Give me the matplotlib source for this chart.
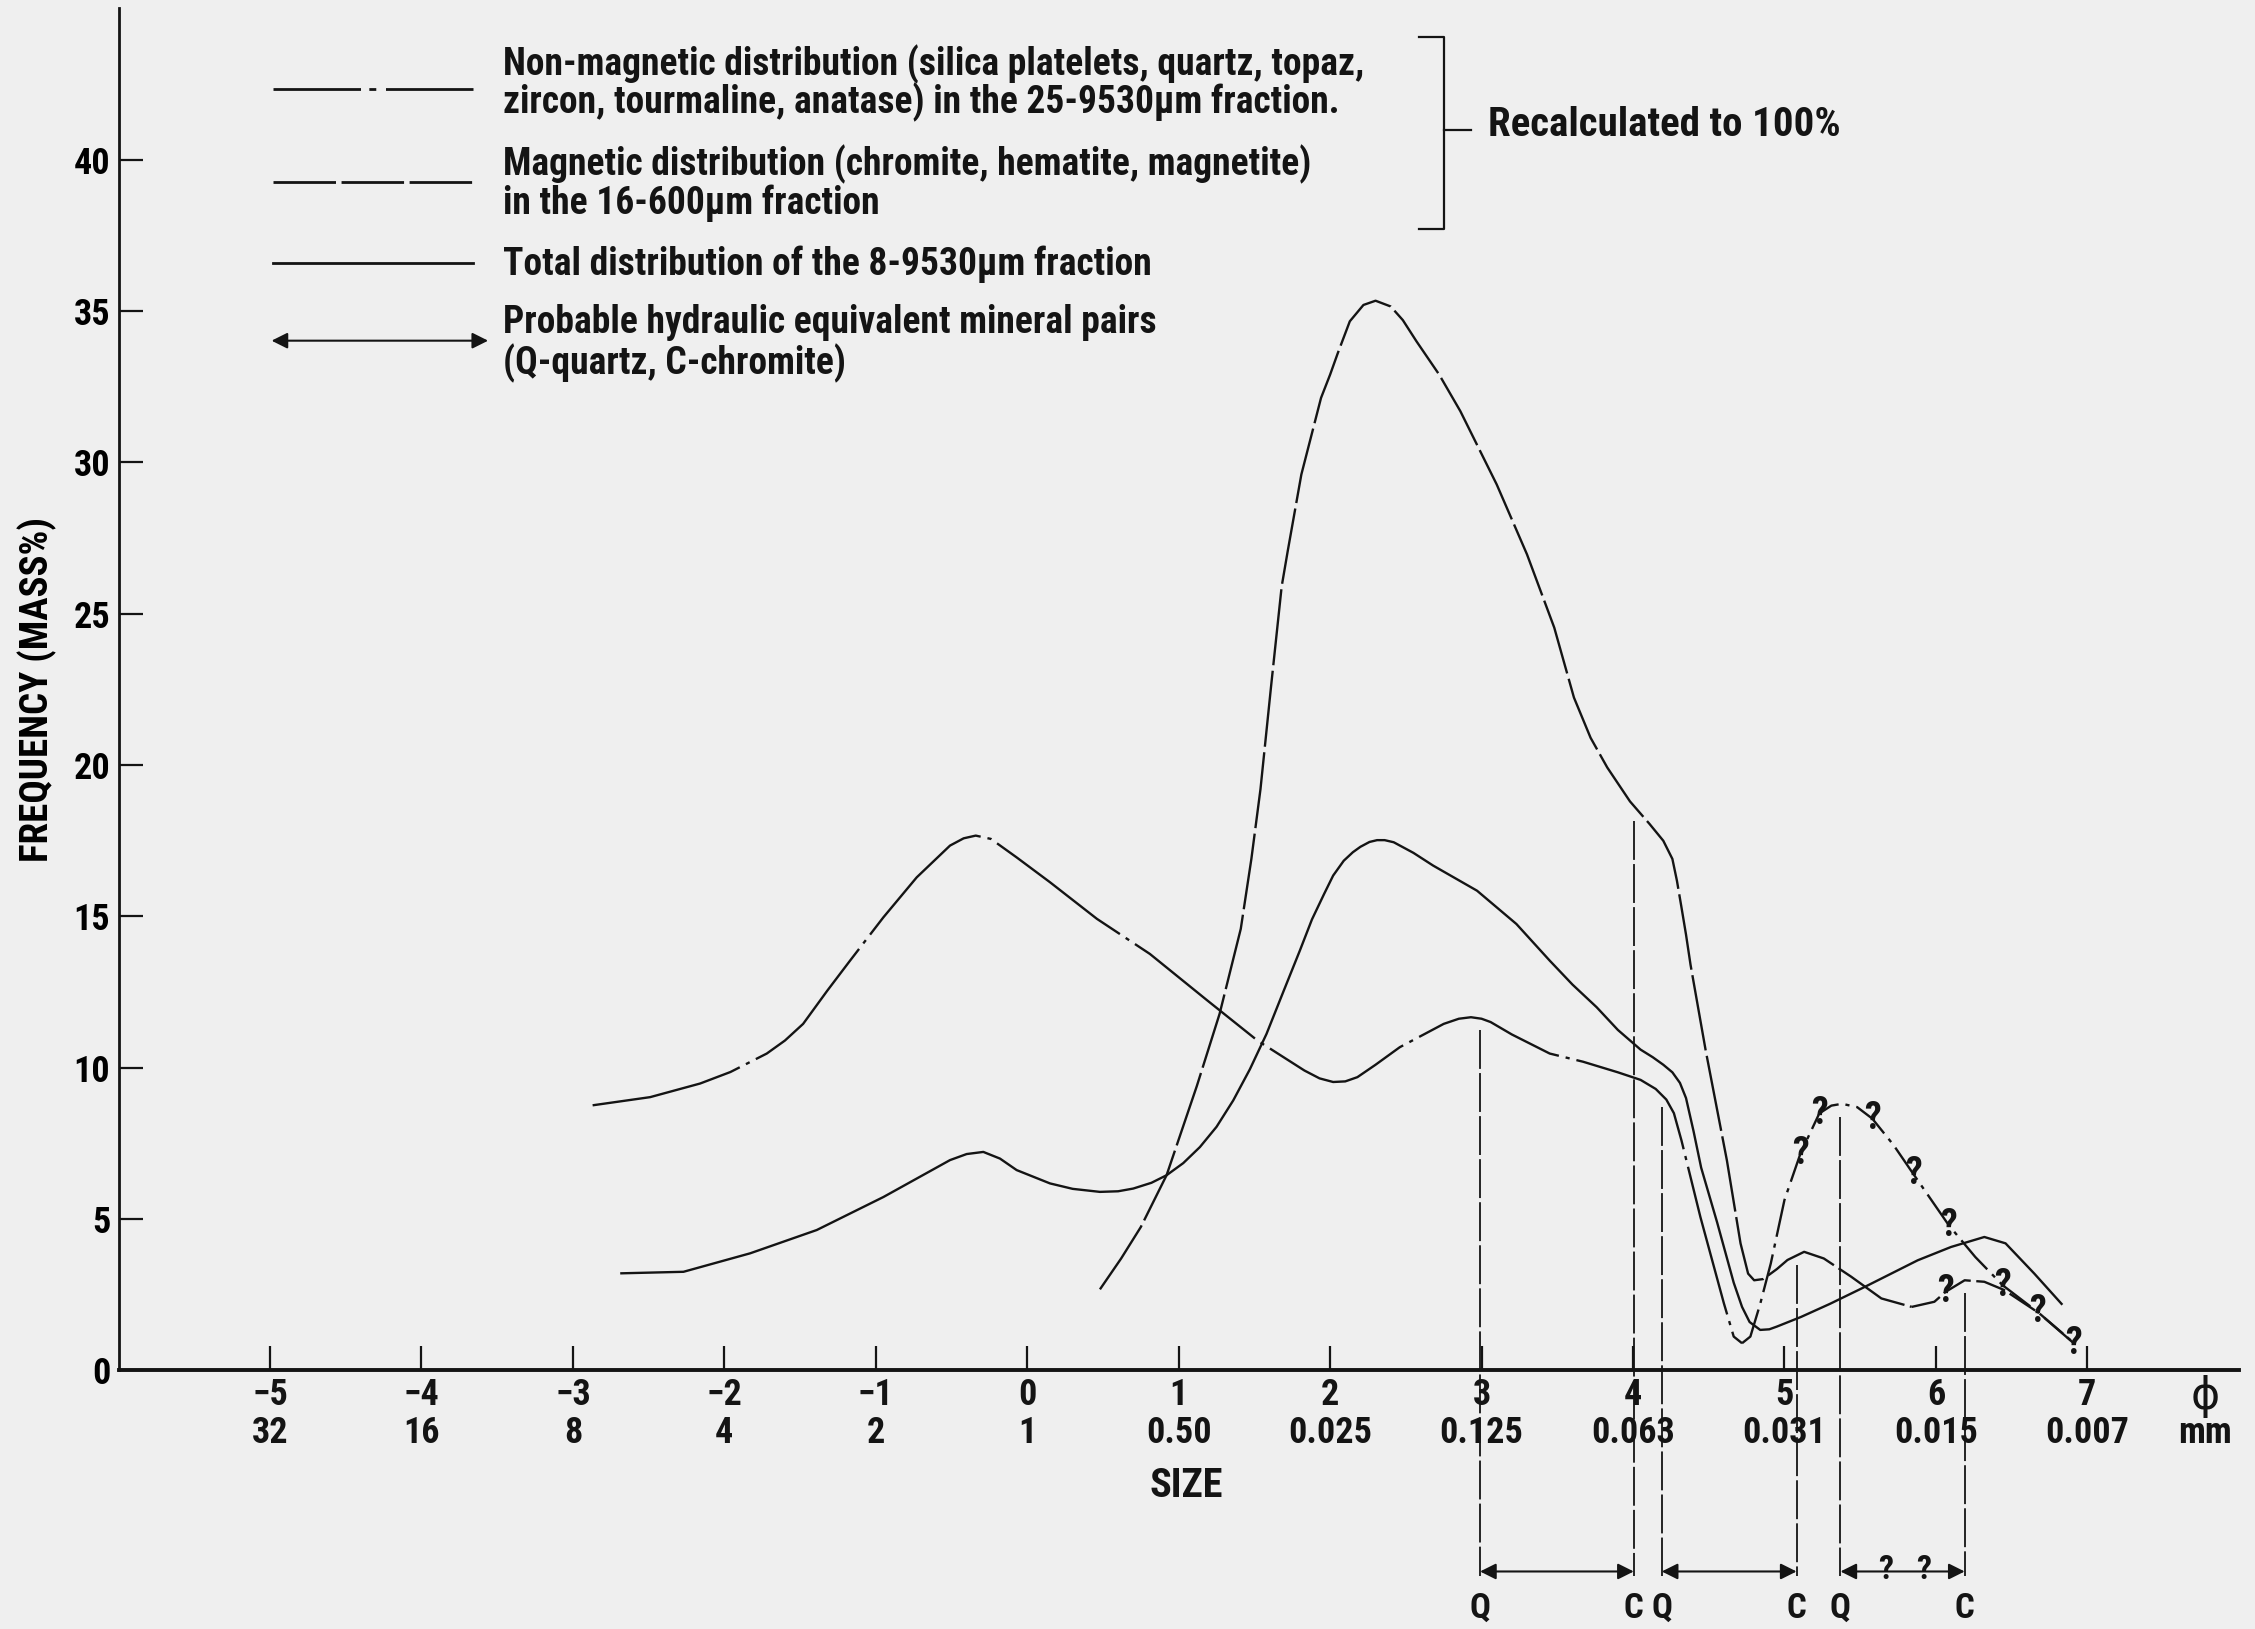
import matplotlib
matplotlib.use("Agg")
import matplotlib.pyplot as plt

# Curve readings (phi size vs frequency mass%)
nonmag_phi = [-2.87, -2.49, -2.16, -1.96, -1.72, -1.60, -1.48, -1.32, -1.17, -0.95, -0.73, -0.51, -0.42,
              -0.34, -0.24, -0.07, 0.15, 0.46, 0.81, 1.19, 1.52, 1.83, 1.93, 2.02, 2.10, 2.18, 2.30, 2.46,
              2.75, 2.85, 2.93, 3.00, 3.06, 3.20, 3.45, 3.67, 3.90, 4.05, 4.15, 4.22, 4.27, 4.32, 4.445,
              4.60, 4.665, 4.72]
nonmag_y = [8.76, 9.03, 9.48, 9.86, 10.47, 10.90, 11.45, 12.55, 13.54, 14.97, 16.29, 17.34, 17.58,
            17.67, 17.56, 16.95, 16.13, 14.92, 13.76, 12.22, 10.90, 9.91, 9.65, 9.53, 9.55, 9.69, 10.10, 10.68,
            11.45, 11.62, 11.67, 11.62, 11.51, 11.10, 10.47, 10.20, 9.85, 9.60, 9.30, 8.95, 8.50, 7.60, 5.07,
            2.22, 1.12, 0.90]
nonmag_q_phi = [4.72, 4.775, 4.84, 4.91, 5.00, 5.106, 5.23, 5.31, 5.38, 5.48, 5.58, 5.72, 5.85, 6.085,
                6.26, 6.44, 6.67, 6.91]
nonmag_q_y = [0.90, 1.12, 2.20, 3.54, 5.63, 7.17, 8.49, 8.75, 8.81, 8.70, 8.32, 7.45, 6.50, 4.80,
              3.75, 2.82, 1.94, 0.90]

mag_phi = [0.48, 0.62, 0.75, 0.92, 1.12, 1.27, 1.41, 1.48, 1.54, 1.61, 1.68, 1.72, 1.81, 1.94, 2.00,
           2.05, 2.13, 2.22, 2.30, 2.40, 2.48, 2.57, 2.72, 2.86, 3.10, 3.30, 3.48, 3.61, 3.72, 3.83,
           3.98, 4.11, 4.20, 4.26, 4.29, 4.32, 4.35, 4.38, 4.48, 4.62, 4.71, 4.76, 4.80, 4.86, 4.95,
           5.02, 5.13, 5.26, 5.44, 5.64, 5.84]
mag_y = [2.68, 3.70, 4.74, 6.45, 9.40, 11.78, 14.59, 16.90, 19.20, 22.60, 25.90, 27.07, 29.60, 32.13, 32.90,
         33.60, 34.66, 35.20, 35.34, 35.15, 34.70, 34.00, 32.90, 31.69, 29.27, 26.96, 24.54, 22.23, 20.90, 19.92,
         18.80, 18.05, 17.50, 16.90, 16.18, 15.30, 14.40, 13.40, 10.57, 6.94, 4.20, 3.20, 2.98, 3.02, 3.35,
         3.65, 3.92, 3.70, 3.10, 2.38, 2.10]
mag_q_phi = [5.84, 5.99, 6.065, 6.19, 6.32, 6.45, 6.68, 6.89]
mag_q_y = [2.10, 2.27, 2.60, 2.98, 2.93, 2.66, 1.90, 1.00]

total_phi = [-2.68, -2.27, -1.83, -1.39, -0.95, -0.51, -0.40, -0.29, -0.18, -0.07, 0.15, 0.30, 0.48, 0.60,
             0.70, 0.82, 0.92, 1.03, 1.14, 1.25, 1.36, 1.47, 1.58, 1.69, 1.80, 1.88, 1.96, 2.02, 2.09,
             2.15, 2.20, 2.26, 2.31, 2.36, 2.42, 2.55, 2.68, 2.97, 3.23, 3.45, 3.60, 3.76, 3.90, 4.05,
             4.13, 4.20, 4.26, 4.31, 4.35, 4.40, 4.45, 4.555, 4.665, 4.72, 4.77, 4.84, 4.90, 4.95, 5.11,
             5.30, 5.53, 5.88, 6.10, 6.32, 6.46, 6.65, 6.83]
total_y = [3.21, 3.26, 3.87, 4.64, 5.73, 6.95, 7.15, 7.22, 7.00, 6.62, 6.18, 6.00, 5.90, 5.92,
           6.01, 6.20, 6.45, 6.85, 7.38, 8.05, 8.92, 9.95, 11.12, 12.50, 13.87, 14.90, 15.74, 16.35, 16.84,
           17.12, 17.30, 17.46, 17.52, 17.52, 17.45, 17.10, 16.68, 15.85, 14.75, 13.54, 12.75, 12.00, 11.25, 10.60,
           10.35, 10.10, 9.85, 9.50, 9.00, 7.90, 6.70, 4.90, 2.90, 2.10, 1.60, 1.34, 1.36, 1.45, 1.77,
           2.20, 2.76, 3.64, 4.08, 4.41, 4.20, 3.20, 2.20]

# question marks along the uncertain parts
qmark_phi = [5.106, 5.23, 5.58, 5.85, 6.085, 6.44, 6.67, 6.91, 6.065]
qmark_y = [7.17, 8.49, 8.32, 6.50, 4.80, 2.82, 1.94, 0.90, 2.60]

# hydraulic equivalent pairs (Q, C) and where the guide lines start
pair_q = [2.99, 4.19, 5.37]
pair_c = [4.005, 5.08, 6.19]
pair_q_top = [11.25, 8.7, 8.37]
pair_c_top = [18.16, 3.48, 2.55]

phi_ticks = [-5, -4, -3, -2, -1, 0, 1, 2, 3, 4, 5, 6, 7]
phi_labels = ['\u22125', '\u22124', '\u22123', '\u22122', '\u22121', '0', '1', '2', '3', '4', '5', '6', '7']
mm_labels = ['32', '16', '8', '4', '2', '1', '0.50', '0.025', '0.125', '0.063', '0.031', '0.015', '0.007']
y_ticks = [0, 5, 10, 15, 20, 25, 30, 35, 40]

INK = '#141414'
BG = '#efefef'
plt.rcParams['font.family'] = ['Roboto Condensed', 'Liberation Sans Narrow', 'Roboto', 'DejaVu Sans']
plt.rcParams['font.weight'] = 'bold'
plt.rcParams['axes.labelweight'] = 'bold'
plt.rcParams['lines.scale_dashes'] = False
plt.rcParams['text.color'] = INK
plt.rcParams['lines.solid_joinstyle'] = 'round'
plt.rcParams['lines.dash_joinstyle'] = 'round'

fig = plt.figure(figsize=(22.55, 16.29), dpi=100, facecolor=BG)
ax = fig.add_axes([0.0526, 0.1587, 0.9402, 0.8362])
ax.set_facecolor(BG)
ax.set_xlim(-6, 8)
ax.set_ylim(0, 45)
for s in ['top', 'right']:
    ax.spines[s].set_visible(False)
ax.spines['left'].set_linewidth(2.0)
ax.spines['bottom'].set_linewidth(2.8)
ax.spines['left'].set_color(INK)
ax.spines['bottom'].set_color(INK)

ax.set_xticks(phi_ticks)
ax.set_xticklabels([])
ax.set_yticks(y_ticks)
ax.tick_params(axis='x', direction='in', length=17, width=1.6, color=INK)
ax.tick_params(axis='y', direction='in', length=17, width=1.6, color=INK, labelsize=26, pad=6)
ax.set_ylabel('FREQUENCY (MASS%)', fontsize=28, fontweight='bold')
ax.yaxis.set_label_coords(-0.029, 0.5)

# two-row x labels
for p, a, b in zip(phi_ticks, phi_labels, mm_labels):
    ax.text(p, -0.81, a, ha='center', va='center', fontsize=26, clip_on=False)
    ax.text(p, -2.07, b, ha='center', va='center', fontsize=26, clip_on=False)
ax.text(7.78, -0.86, '\u03d5', ha='center', va='center', fontsize=32, fontweight='normal',
        family=['DejaVu Sans'], clip_on=False)
ax.text(7.78, -2.07, 'mm', ha='center', va='center', fontsize=26, clip_on=False)
ax.text(1.05, -3.83, 'SIZE', ha='center', va='center', fontsize=29, clip_on=False)

lw = 1.7
ax.plot(nonmag_phi, nonmag_y, color=INK, lw=lw, dashes=(110, 5, 3, 5))
ax.plot(nonmag_q_phi, nonmag_q_y, color=INK, lw=lw, dashes=(28, 5, 3, 5))
ax.plot(mag_phi, mag_y, color=INK, lw=lw, dashes=(55, 4))
ax.plot(mag_q_phi, mag_q_y, color=INK, lw=lw, dashes=(22, 4))
ax.plot(total_phi, total_y, color=INK, lw=lw)

for p, v in zip(qmark_phi, qmark_y):
    ax.text(p, v, '?', ha='center', va='center', fontsize=27, color=INK)

# guide lines and arrows for the mineral pairs
y_arrow = -6.64
for q, c, qt, ct in zip(pair_q, pair_c, pair_q_top, pair_c_top):
    ax.plot([q, q], [qt, -6.8], color=INK, lw=1.3, dashes=(28, 3), clip_on=False)
    ax.plot([c, c], [ct, -6.8], color=INK, lw=1.3, dashes=(28, 3), clip_on=False)
    ax.annotate('', xy=(c, y_arrow), xytext=(q, y_arrow), annotation_clip=False,
                arrowprops=dict(arrowstyle='<|-|>', lw=1.5, color=INK, mutation_scale=24,
                                shrinkA=0, shrinkB=0))
    ax.text(q, -7.85, 'Q', ha='center', va='center', fontsize=25, clip_on=False)
    ax.text(c, -7.85, 'C', ha='center', va='center', fontsize=25, clip_on=False)
ax.text(5.67, -6.6, '?', ha='center', va='center', fontsize=24, clip_on=False)
ax.text(5.92, -6.6, '?', ha='center', va='center', fontsize=24, clip_on=False)

# key
ax.plot([-4.98, -3.66], [42.32, 42.32], color=INK, lw=2.0, dashes=(63, 6, 5, 7))
ax.plot([-4.98, -3.66], [39.27, 39.27], color=INK, lw=2.0, dashes=(45, 4))
ax.plot([-4.98, -3.66], [36.58, 36.58], color=INK, lw=2.0)
ax.annotate('', xy=(-3.56, 34.02), xytext=(-4.99, 34.02),
            arrowprops=dict(arrowstyle='<|-|>', lw=1.5, color=INK, mutation_scale=24, shrinkA=0, shrinkB=0))
key_lines = [
    (43.16, 'Non-magnetic distribution (silica platelets, quartz, topaz,'),
    (41.88, 'zircon, tourmaline, anatase) in the 25-9530\u03bcm fraction.'),
    (39.85, 'Magnetic distribution (chromite, hematite, magnetite)'),
    (38.57, 'in the 16-600\u03bcm fraction'),
    (36.53, 'Total distribution of the 8-9530\u03bcm fraction'),
    (34.62, 'Probable hydraulic equivalent mineral pairs'),
    (33.26, '(Q-quartz, C-chromite)'),
]
for yy, t in key_lines:
    ax.text(-3.46, yy, t, ha='left', va='center', fontsize=27)

# bracket for the recalculated curves
ax.plot([2.59, 2.75, 2.75, 2.59], [44.06, 44.06, 37.72, 37.72], color=INK, lw=1.6)
ax.plot([2.75, 2.93], [40.99, 40.99], color=INK, lw=1.6)
ax.text(3.045, 41.16, 'Recalculated to 100%', ha='left', va='center', fontsize=29.5)

fig.savefig('out.png', dpi=100, facecolor=BG)
